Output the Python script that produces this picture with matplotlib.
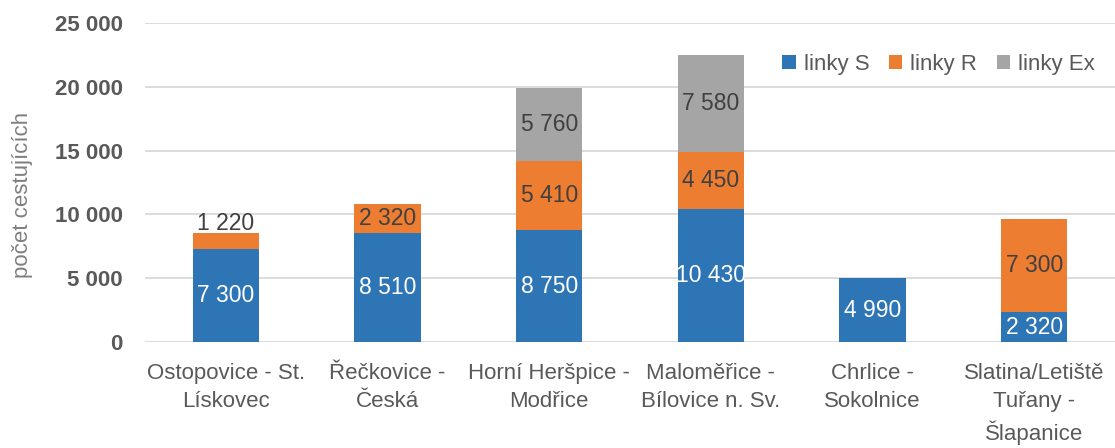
import numpy as np
import matplotlib.pyplot as plt
from matplotlib import font_manager

categories = ["Ostopovice - St.\nLískovec", "Řečkovice -\nČeská", "Horní Heršpice -\nModřice",
              "Maloměřice -\nBílovice n. Sv.", "Chrlice -\nSokolnice", "Slatina/Letiště\nTuřany -\nŠlapanice"]
linky_s = [7300, 8510, 8750, 10430, 4990, 2320]
linky_r = [1220, 2320, 5410, 4450, 0, 7300]
linky_ex = [0, 0, 5760, 7580, 0, 0]
series_names = ["linky S", "linky R", "linky Ex"]
colors = ["#2E75B6", "#ED7D31", "#A5A5A5"]

names = {f.name for f in font_manager.fontManager.ttflist}
fam = "Liberation Sans Narrow" if "Liberation Sans Narrow" in names else "Liberation Sans"
plt.rcParams["font.family"] = [fam, "DejaVu Sans"]


def fmt(v):
    return f"{v:,}".replace(",", " ")


fig = plt.figure(figsize=(11.15, 4.48), dpi=100)
ax = fig.add_axes([0.130, 0.2366, 0.870, 0.7124])

x = np.arange(len(categories))
w = 0.41
bottom = np.zeros(len(categories))
for vals, name, c in zip([linky_s, linky_r, linky_ex], series_names, colors):
    vals = np.array(vals)
    ax.bar(x, vals, w, bottom=bottom, color=c, label=name, zorder=3)
    for xi, b, v in zip(x, bottom, vals):
        if v == 0:
            continue
        tc = "white" if c == "#2E75B6" else "#404040"
        if v < 2000:
            ax.text(xi, b + v - 100, fmt(v), ha="center", va="bottom", fontsize=16.5, color=tc)
        else:
            ax.text(xi, b + v / 2, fmt(v), ha="center", va="center", fontsize=16.5, color=tc)
    bottom += vals

ax.set_xlim(-0.5, len(categories) - 0.5)
ax.set_ylim(0, 25000)
ax.set_yticks(np.arange(0, 25001, 5000))
ax.set_yticklabels([fmt(v) for v in range(0, 25001, 5000)], fontsize=16, fontweight="bold", color="#595959")
ax.set_xticks(x)
ax.set_xticklabels(categories, fontsize=16, color="#595959", linespacing=1.45)
ax.tick_params(length=0)
ax.tick_params(axis="x", pad=15)
ax.tick_params(axis="y", pad=16)
ax.grid(axis="y", color="#D9D9D9", linewidth=1.3, zorder=0)
for s in ax.spines.values():
    s.set_visible(False)
ax.set_ylabel("počet cestujících", fontsize=16, color="#7F7F7F")
ax.yaxis.set_label_coords(-0.115, 0.46)

leg = ax.legend(loc="upper right", bbox_to_anchor=(1.0, 0.965), ncol=3, frameon=False, fontsize=16,
                handlelength=0.6, handleheight=0.6, handletextpad=0.35, columnspacing=0.9)
for t in leg.get_texts():
    t.set_color("#595959")

fig.savefig("out.png", dpi=100)
